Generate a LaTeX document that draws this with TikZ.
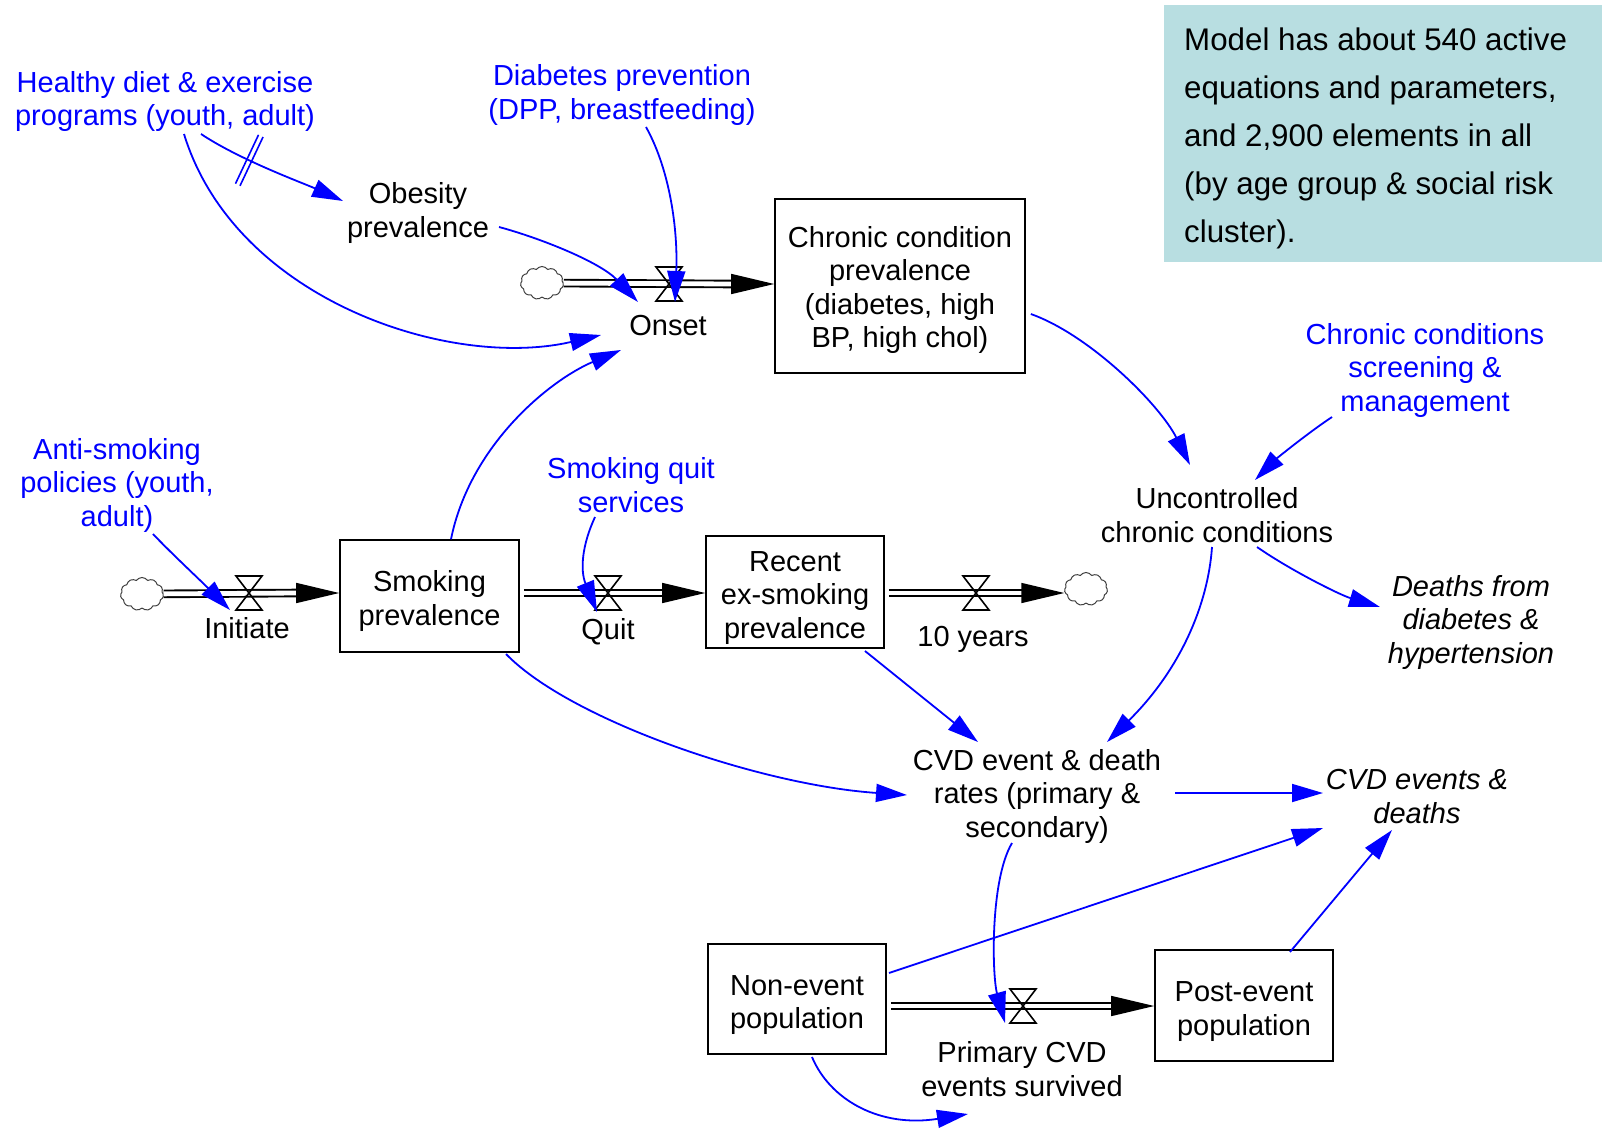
\documentclass[tikz,border=0pt]{standalone}
\usepackage{fontspec}
\setmainfont{Liberation Sans}
\usetikzlibrary{arrows.meta,calc,shapes.symbols,decorations.markings}
\definecolor{infobg}{RGB}{184,222,225}
\definecolor{linkblue}{RGB}{0,0,255}
\begin{document}
\begin{tikzpicture}[x=1pt,y=-1pt,
  every node/.style={font=\fontsize{29}{33.5}\selectfont, align=center, inner sep=0pt},
  lbl/.style={text=black},
  pol/.style={text=linkblue},
  outc/.style={font=\fontsize{29}{33.5}\selectfont\itshape},
  stock/.style={draw=black, line width=1.6pt, inner sep=0pt},
  link/.style={draw=linkblue, line width=1.8pt, -{Triangle[length=31pt,width=18pt]}},
  pipe/.style={draw=black, line width=1.9pt, double=white, double distance=4.8pt},
  flowtip/.style={draw=black, line width=1.5pt, -{Triangle[length=43pt,width=20pt]}},
  source/.style={cloud, cloud puffs=11, cloud puff arc=110, cloud ignores aspect, minimum width=43pt, minimum height=33pt, draw=black!75, line width=1pt, inner sep=0pt},
  valve/.pic={\draw[line width=1.6pt] (-13,-17) -- (13,-17) -- (-13,17) -- (13,17) -- cycle;},
]
\useasboundingbox (0,0) rectangle (1602,1129);

% info box
\node[fill=infobg, anchor=north west, minimum width=438pt, minimum height=257pt] (info) at (1164,5) {};
\node[anchor=west, align=left, font=\fontsize{31.3}{48}\selectfont] (infotext) at ($(info.west)+(20,5)$) {Model has about 540 active\\equations and parameters,\\and 2,900 elements in all\\(by age group \& social risk\\cluster).};

% nodes
\node[pol] (healthy) at (165,101.5) {Healthy diet \& exercise\\programs (youth, adult)};
\node[pol] (diabprev) at (622,95) {Diabetes prevention\\(DPP, breastfeeding)};
\node[lbl] (obesity) at (418,213) {Obesity\\prevalence};
\coordinate (vOnset) at (669,284);
\node[lbl] (onset) at (668,326) {Onset};
\node[stock, minimum width=250pt, minimum height=174pt, label={[yshift=-4pt]center:{Chronic condition\\prevalence\\(diabetes, high\\BP, high chol)}}] (chronic) at (900,286) {};
\node[source] (cloudA) at (542,283) {};
\node[pol] (screening) at (1425,370) {Chronic conditions\\screening \&\\management};
\node[lbl] (uncontrolled) at (1217,515) {Uncontrolled\\chronic conditions};
\node[outc] (deathsdiab) at (1471,622) {Deaths from\\diabetes \&\\hypertension};
\node[pol] (antismoking) at (117,485) {Anti-smoking\\policies (youth,\\adult)};
\node[pol] (quitsvc) at (631,485) {Smoking quit\\services};
\node[source] (cloudB) at (142,594) {};
\coordinate (vInit) at (249,593);
\node (initiate) at (247,628) {Initiate};
\node[stock, minimum width=179pt, minimum height=112pt, label={[yshift=-5pt]center:{Smoking\\prevalence}}] (smoking) at (429.5,596) {};
\coordinate (vQuit) at (608,593);
\node (quit) at (608,632) {Quit};
\node[stock, minimum width=178pt, minimum height=112pt, label={[yshift=-6pt]center:{Recent\\ex-smoking\\prevalence}}] (recent) at (795,592) {};
\coordinate (vTen) at (976,593);
\node (tenyears) at (973,639) {10 years};
\node[source] (cloudC) at (1086,589) {};
\node (cvdrates) at (1037,796) {CVD event \& death\\rates (primary \&\\secondary)};
\node[outc] (cvdevents) at (1417,796.5) {CVD events \&\\deaths};
\node[stock, minimum width=178pt, minimum height=110pt, label={[yshift=-6pt]center:{Non-event\\population}}] (nonevent) at (797,999) {};
\coordinate (vPrim) at (1023,1006);
\node (primary) at (1022,1069) {Primary CVD\\events survived};
\node[stock, minimum width=178pt, minimum height=111pt, label={[yshift=-6pt]center:{Post-event\\population}}] (postevent) at (1244,1005.5) {};
\coordinate (outflow) at (968,1114);

% flows
\draw[pipe] (cloudA) -- ($(chronic.west|-vOnset)+(-41,0)$);
\draw[flowtip] ($(chronic.west|-vOnset)+(-42,0)$) -- (chronic.west|-vOnset);
\draw[pipe] (cloudB) -- ($(smoking.west|-vInit)+(-41,0)$);
\draw[flowtip] ($(smoking.west|-vInit)+(-42,0)$) -- (smoking.west|-vInit);
\draw[pipe] ($(smoking.east|-vQuit)+(4,0)$) -- ($(recent.west|-vQuit)+(-41,0)$);
\draw[flowtip] ($(recent.west|-vQuit)+(-42,0)$) -- (recent.west|-vQuit);
\draw[pipe] ($(recent.east|-vTen)+(4,0)$) -- ($(cloudC.west|-vTen)+(-41,0)$);
\draw[flowtip] ($(cloudC.west|-vTen)+(-42,0)$) -- (cloudC.west|-vTen);
\draw[pipe] ($(nonevent.east|-vPrim)+(4,0)$) -- ($(postevent.west|-vPrim)+(-41,0)$);
\draw[flowtip] ($(postevent.west|-vPrim)+(-42,0)$) -- (postevent.west|-vPrim);
\pic at (vOnset) {valve};
\pic at (vInit) {valve};
\pic at (vQuit) {valve};
\pic at (vTen) {valve};
\pic at (vPrim) {valve};

% links
\draw[link, postaction={decorate}, decoration={markings, mark=at position 0.35 with {\draw[-, draw=linkblue, line width=1.6pt] (-2.5,-27)--(-2.5,27) (2.5,-27)--(2.5,27);}}] ($(healthy)+(36,32.5)$) .. controls (240,160) and (303,183) .. ($(obesity)+(-75,-12)$);
\draw[link] ($(healthy)+(19,32.5)$) .. controls (235,300) and (450,370) .. ($(onset)+(-67,9)$);
\draw[link] ($(diabprev)+(24,32)$) .. controls (670,170) and (678,230) .. ($(vOnset)+(6,18)$);
\draw[link] ($(obesity)+(81,14)$) .. controls (540,238) and (600,262) .. ($(onset)+(-30,-24)$);
\draw[link] ($(smoking.north)+(21.5,0)$) .. controls (470,445) and (550,380) .. ($(onset)+(-47,24)$);
\draw[link] ($(chronic.east)+(5,28)$) .. controls (1090,335) and (1160,405) .. ($(uncontrolled)+(-27,-50)$);
\draw[link] ($(screening)+(-93,47)$) .. controls (1305,435) and (1275,460) .. ($(uncontrolled)+(38,-35)$);
\draw[link] ($(antismoking)+(36,49)$) .. controls (170,552) and (200,580) .. ($(vInit)+(-19,17)$);
\draw[link] ($(quitsvc)+(-36,32)$) .. controls (582,545) and (580,570) .. ($(vQuit)+(-11,19)$);
\draw[link] ($(smoking)+(76.5,58)$) .. controls (570,720) and (760,785) .. ($(cvdrates)+(-130,-1)$);
\draw[link] ($(recent)+(70,59)$) -- ($(cvdrates)+(-59,-54)$);
\draw[link] ($(uncontrolled)+(-5,32)$) .. controls (1208,605) and (1180,670) .. ($(cvdrates)+(70,-54)$);
\draw[link] ($(uncontrolled)+(40,32)$) .. controls (1290,570) and (1340,595) .. ($(deathsdiab)+(-91,-15)$);
\draw[link] ($(cvdrates)+(138,-3)$) -- ($(cvdevents)+(-94,-3.5)$);
\draw[link] ($(nonevent)+(92,-26)$) -- ($(cvdevents)+(-94,31.5)$);
\draw[link] ($(postevent)+(46,-53.5)$) -- ($(cvdevents)+(-25,33.5)$);
\draw[link] ($(cvdrates)+(-25,47)$) .. controls (990,880) and (992,975) .. ($(vPrim)+(-18,17)$);
\draw[link] ($(nonevent)+(15,58)$) .. controls (830,1100) and (880,1128) .. (outflow);
\end{tikzpicture}
\end{document}
